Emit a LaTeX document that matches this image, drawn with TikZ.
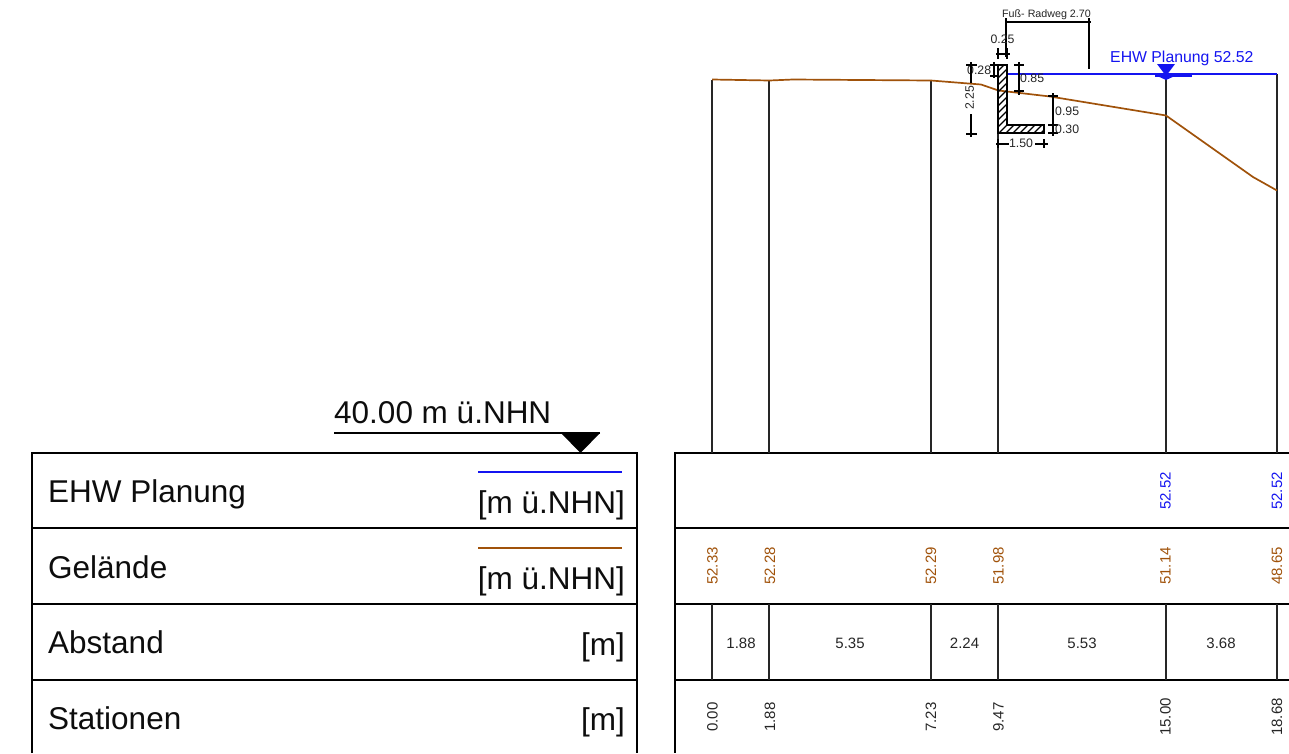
\documentclass[tikz,border=0pt]{standalone}
\usepackage{fontspec}
\setmainfont{Liberation Sans}
\definecolor{ehw}{RGB}{20,20,240}
\definecolor{gel}{RGB}{160,82,10}
\tikzset{
  x=1pt,y=-1pt,
  rowlabel/.style={anchor=base west,inner sep=0pt,font=\fontsize{31.5}{32}\selectfont,text=black!95},
  unitlabel/.style={anchor=base east,inner sep=0pt,font=\fontsize{31.5}{32}\selectfont,text=black!95},
  val/.style={rotate=90,inner sep=0pt,font=\fontsize{15}{16}\selectfont,text=black!85},
  dist/.style={inner sep=0pt,font=\fontsize{15}{16}\selectfont,text=black!85},
  dim/.style={inner sep=0pt,font=\fontsize{12.3}{13}\selectfont,text=black!85},
  frame/.style={draw=black,line width=1.6pt},
  post/.style={draw=black!85,line width=1.7pt},
  dimline/.style={draw=black,line width=1.4pt},
}
\begin{document}
\begin{tikzpicture}
\useasboundingbox (0,0) rectangle (1289,753);
% left table
\draw[frame] (32,753) -- (32,453) -- (637,453) -- (637,753);
\foreach \y in {528,604,680} \draw[frame] (32,\y) -- (637,\y);
\node[rowlabel] (l1) at (48,502) {EHW Planung};
\node[rowlabel] (l2) at (48,578) {Gelände};
\node[rowlabel] (l3) at (48,653) {Abstand};
\node[rowlabel] (l4) at (48,729) {Stationen};
\node[unitlabel] (u1) at (625,513) {[m ü.NHN]};
\node[unitlabel] (u2) at (625,589) {[m ü.NHN]};
\node[unitlabel] (u3) at (625,655) {[m]};
\node[unitlabel] (u4) at (625,730) {[m]};
\draw[ehw,line width=1.4pt] (478,472) -- (622,472);
\draw[gel,line width=1.4pt] (478,548) -- (622,548);
% reference level
\node[rowlabel] (ref) at (334,423) {40.00 m ü.NHN};
\draw[black,line width=1.6pt] (334,433) -- (600,433);
\fill[black] (561,433) -- (600,433) -- (580.5,453) -- cycle;
% right table
\draw[frame] (1289,453) -- (675,453) -- (675,753);
\foreach \y in {528,604,680} \draw[frame] (675,\y) -- (1289,\y);
% posts
\draw[post] (712,80) -- (712,453);
\draw[post] (769,81) -- (769,453);
\draw[post] (931,81) -- (931,453);
\draw[post] (998,65) -- (998,453);
\draw[post] (1166,74) -- (1166,453);
\draw[post] (1277,74) -- (1277,453);
\foreach \x in {712,931,769,998,1166,1277} {
  \draw[post] (\x,604) -- (\x,680);
}
% water level
\draw[ehw,line width=1.8pt] (1006,74) -- (1277,74);
\fill[ehw] (1157,64) -- (1175,64) -- (1166,76) -- cycle;
\draw[ehw,line width=2.2pt] (1155,75.5) -- (1192,75.5);
\fill[ehw] (1155,75) -- (1177,75) -- (1166,80) -- cycle;
\node[inner sep=0pt,anchor=base west,text=ehw,font=\fontsize{15.8}{16}\selectfont] (ehwl) at (1110,62) {EHW Planung 52.52};
% terrain
\draw[gel,line width=1.7pt] (712,79.5) -- (769.5,80.5) -- (793,79.5) -- (931,80.5) -- (981,84.5) -- (998.5,90.5)
  -- (1050,96.5) -- (1166,115.5) -- (1253,177) -- (1277,190.5);
% wall
\begin{scope}
\clip (998,65) -- (1007,65) -- (1007,125) -- (1044,125) -- (1044,133) -- (998,133) -- cycle;
\foreach \k in {0,7,...,210} \draw[black,line width=1.2pt] (880+\k,140) -- (960+\k,60);
\end{scope}
\draw[black,line width=1.7pt] (998,133) -- (998,65) -- (1007,65) -- (1007,125) -- (1044,125) -- (1044,133) -- cycle;
% dimensions
\draw[dimline] (1006,22) -- (1089,22);
\draw[dimline] (1006,18) -- (1006,57);
\draw[dimline] (1089,18) -- (1089,69);
\draw[dimline] (1085,22) -- (1091,22);
\node[dim,anchor=base,font=\fontsize{10.7}{11}\selectfont] (d1) at (1046.5,17) {Fuß- Radweg 2.70};
\node[dim] (d2) at (1002.5,39.5) {0.25};
\draw[dimline] (996,54) -- (1010,54);
\draw[dimline] (998,48) -- (998,59);
\draw[dimline] (1007,48) -- (1007,59);
\node[dim,anchor=west] (d3) at (967,70.5) {0.28};
\draw[dimline] (994,62) -- (994,78);
\draw[dimline] (990,65) -- (998,65);
\draw[dimline] (990,76) -- (998,76);
\node[dim,anchor=west] (d4) at (1020,78.5) {0.85};
\draw[dimline] (1019,62) -- (1019,95);
\draw[dimline] (1014,65) -- (1024,65);
\draw[dimline] (1014,91) -- (1024,91);
\node[dim,rotate=90] (d5) at (969.5,98) {2.25};
\draw[dimline] (971,62) -- (971,83);
\draw[dimline] (971,114) -- (971,137);
\draw[dimline] (966,65) -- (977,65);
\draw[dimline] (966,134) -- (977,134);
\node[dim,anchor=west] (d6) at (1055,111) {0.95};
\draw[dimline] (1053,93) -- (1053,136);
\draw[dimline] (1048,96) -- (1058,96);
\draw[dimline] (1048,125) -- (1058,125);
\draw[dimline] (1048,133) -- (1058,133);
\node[dim,anchor=west] (d7) at (1055,129) {0.30};
\node[dim] (d8) at (1021,143) {1.50};
\draw[dimline] (996,144) -- (1009,144);
\draw[dimline] (1035,144) -- (1048,144);
\draw[dimline] (998,139) -- (998,148);
\draw[dimline] (1044,139) -- (1044,148);
% row 1 values
\node[val,text=ehw] (a1) at (1165.5,491) {52.52};
\node[val,text=ehw] (a2) at (1277,491) {52.52};
% row 2 values
\node[val,text=gel] (b1) at (712.5,566) {52.33};
\node[val,text=gel] (b2) at (770,566) {52.28};
\node[val,text=gel] (b3) at (931,566) {52.29};
\node[val,text=gel] (b4) at (998.5,566) {51.98};
\node[val,text=gel] (b5) at (1165.5,566) {51.14};
\node[val,text=gel] (b6) at (1277,566) {48.65};
% row 3
\node[dist] (c1) at (741,643) {1.88};
\node[dist] (c2) at (850,643) {5.35};
\node[dist] (c3) at (964.5,643) {2.24};
\node[dist] (c4) at (1082,643) {5.53};
\node[dist] (c5) at (1221,643) {3.68};
% row 4
\node[val] (e1) at (712.5,717) {0.00};
\node[val] (e2) at (770,717) {1.88};
\node[val] (e3) at (931,717) {7.23};
\node[val] (e4) at (998.5,717) {9.47};
\node[val] (e5) at (1165.5,717) {15.00};
\node[val] (e6) at (1277,717) {18.68};
\end{tikzpicture}
\end{document}
